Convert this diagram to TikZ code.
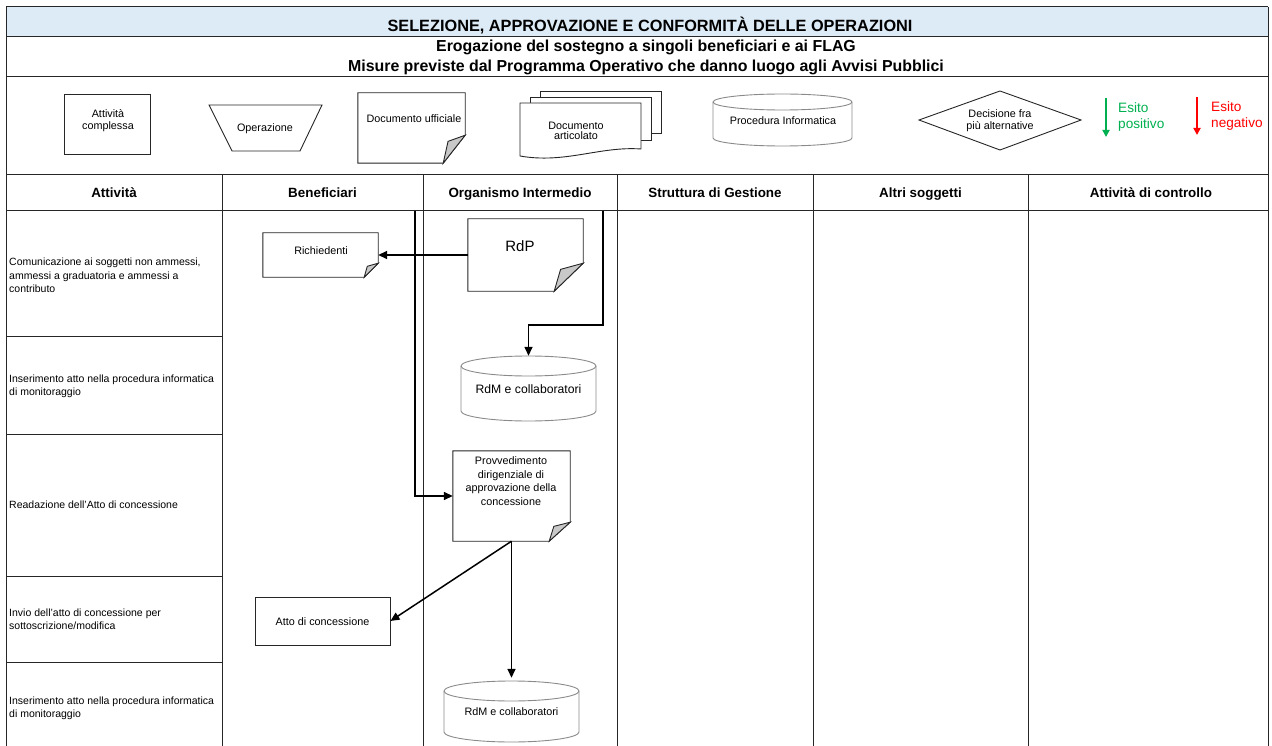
\documentclass[tikz,border=0pt]{standalone}
\usepackage{fontspec}
\setmainfont{Liberation Sans}
\usetikzlibrary{arrows.meta,calc}

\definecolor{titlebg}{HTML}{DDEBF7}
\definecolor{flap}{HTML}{C8C8C8}
\definecolor{okgreen}{HTML}{00B050}
\definecolor{kored}{HTML}{FF0000}
\definecolor{cylgray}{HTML}{8A8A8A}

% document sheet with a curled bottom-right corner: node name, fold width, fold height
\newcommand\docoutline[3]{%
  \draw[boxline,fill=white] (#1.south west) -- (#1.north west) -- (#1.north east)
    -- ([yshift=#3pt]#1.south east) -- ([xshift=-#2pt]#1.south east) -- cycle;
  \draw[boxline,fill=flap] ([yshift=#3pt]#1.south east)
    -- ([xshift=-0.78*#2pt,yshift=0.78*#3pt]#1.south east)
    -- ([xshift=-#2pt]#1.south east) -- cycle;}

% database cylinder: left, top, right, bottom, ellipse half-height
\newcommand\cylout[5]{%
  \draw[cylline,fill=white] (#1,#2+#5) -- (#1,#4-#5)
    arc[start angle=180,end angle=360,x radius={(#3-#1)/2*1pt},y radius=#5pt]
    -- (#3,#2+#5)
    arc[start angle=0,end angle=180,x radius={(#3-#1)/2*1pt},y radius=#5pt] -- cycle;
  \draw[cylline] (#1,#2+#5)
    arc[start angle=180,end angle=360,x radius={(#3-#1)/2*1pt},y radius=#5pt];}

\begin{document}
\begin{tikzpicture}[x=1pt,y=-1pt,
  frame/.style={draw=black!85,line width=1pt},
  boxline/.style={draw=black!85,line width=0.9pt},
  cylline/.style={draw=cylgray,line width=0.9pt},
  shapebox/.style={draw=none,rectangle,inner sep=0pt},
  txt/.style={font=\fontsize{10.8}{12.2}\selectfont,align=center,inner sep=0pt},
  coltxt/.style={font=\fontsize{10.5}{13.5}\selectfont,align=left,anchor=west,inner sep=0pt},
  head/.style={font=\bfseries\fontsize{13.4}{15}\selectfont,inner sep=0pt,anchor=base},
  titletxt/.style={font=\bfseries\fontsize{16.3}{18}\selectfont,inner sep=0pt,anchor=base},
  subtxt/.style={font=\bfseries\fontsize{15.9}{18}\selectfont,inner sep=0pt,anchor=base},
  conn/.style={draw=black,line width=1.5pt,-{Triangle[length=9pt,width=8pt]}},
  esito/.style={line width=2pt,-{Triangle[length=7pt,width=7pt]}},
  esitotxt/.style={font=\fontsize{13.6}{15.5}\selectfont,align=left,anchor=west,inner sep=0pt},
]
\useasboundingbox (0,0) rectangle (1272,746);

% ---- title band and frame
\fill[titlebg] (6,7) rectangle (1268,37);
\foreach \yy in {7,37,77,175,211} \draw[frame] (6,\yy) -- (1268,\yy);
\draw[frame] (6,7) -- (6,746);
\draw[frame] (1268,7) -- (1268,746);
\foreach \xx in {222,423,617,813,1028} \draw[frame] (\xx,175) -- (\xx,746);
\foreach \yy in {336,434,576,662} \draw[frame] (6,\yy) -- (222,\yy);

\node[titletxt] (title) at (650,32) {SELEZIONE, APPROVAZIONE E CONFORMITÀ DELLE OPERAZIONI};
\node[subtxt] (sub1) at (646,51.5) {Erogazione del sostegno a singoli beneficiari e ai FLAG};
\node[subtxt] (sub2) at (646,71.5) {Misure previste dal Programma Operativo che danno luogo agli Avvisi Pubblici};

% ---- legend
\node[shapebox,draw=black!85,line width=0.9pt,minimum width=86pt,minimum height=60pt] (lgatt) at (107,124) {};
\node[txt] (lgatt-t) at (108,121) {Attività\\complessa};

\draw[boxline] (209,105) -- (322,105) -- (300,151) -- (232,151) -- cycle;
\node[txt] (lgop) at (265,129) {Operazione};

\node[shapebox,minimum width=107pt,minimum height=70pt] (lgdoc) at (411.5,128) {};
\docoutline{lgdoc}{22}{28}
\node[txt] (lgdoc-t) at (414,119) {Documento ufficiale};

\draw[boxline,fill=white] (540,91) rectangle (661,133);
\draw[boxline,fill=white] (530,97) rectangle (651,140);
\draw[boxline,fill=white] (520,156) -- (520,103) -- (641,103) -- (641,149)
  .. controls (600,146) and (565,164) .. cycle;
\node[txt,font=\fontsize{10.8}{10.5}\selectfont] (lgart) at (576,131) {Documento\\articolato};

\node[shapebox,minimum width=139pt,minimum height=52pt] (lgcyl) at (783,120) {};
\cylout{713}{94}{852}{146}{8}
\node[txt] (lgcyl-t) at (783,121) {Procedura Informatica};

\draw[boxline] (919,120) -- (1000,91) -- (1081,120) -- (1000,150) -- cycle;
\node[txt] (lgdec) at (1000,121) {Decisione fra\\più alternative};

\coordinate (gA) at (1106,98);
\coordinate (gB) at (1106,137);
\draw[esito,okgreen] (gA) -- (gB);
\node[esitotxt,text=okgreen] (lgpos) at (1118,117) {Esito\\positivo};
\coordinate (rA) at (1197,97);
\coordinate (rB) at (1197,135);
\draw[esito,kored] (rA) -- (rB);
\node[esitotxt,text=kored] (lgneg) at (1211,116) {Esito\\negativo};

% ---- column headings
\node[head] (h1) at (114,198) {Attività};
\node[head] (h2) at (322.5,198) {Beneficiari};
\node[head] (h3) at (520,198) {Organismo Intermedio};
\node[head] (h4) at (715,198) {Struttura di Gestione};
\node[head] (h5) at (920.5,198) {Altri soggetti};
\node[head] (h6) at (1151,198) {Attività di controllo};

% ---- activity descriptions
\node[coltxt] (a1) at (9,275.5) {Comunicazione ai soggetti non ammessi,\\ammessi a graduatoria e ammessi a\\contributo};
\node[coltxt] (a2) at (9,386.5) {Inserimento atto nella procedura informatica\\di monitoraggio};
\node[coltxt] (a3) at (9,505) {Readazione dell'Atto di concessione};
\node[coltxt] (a4) at (9,619) {Invio dell'atto di concessione per\\sottoscrizione/modifica};
\node[coltxt] (a5) at (9,708.5) {Inserimento atto nella procedura informatica\\di monitoraggio};

% ---- flow elements
\node[shapebox,minimum width=115pt,minimum height=44pt] (rich) at (320.5,255) {};
\docoutline{rich}{14}{14}
\node[txt] (rich-t) at (321,251) {Richiedenti};

\node[shapebox,minimum width=115pt,minimum height=72pt] (rdp) at (525.5,255) {};
\docoutline{rdp}{29}{28}
\node[txt,font=\fontsize{15}{17}\selectfont] (rdp-t) at (520,246) {RdP};

\node[shapebox,minimum width=135pt,minimum height=65pt] (cyl1) at (528.5,388.5) {};
\cylout{461}{356}{596}{421}{10}
\node[txt,font=\fontsize{12.2}{14}\selectfont] (cyl1-t) at (528.5,389) {RdM e collaboratori};

\node[shapebox,minimum width=117pt,minimum height=90pt] (prov) at (511.5,496) {};
\docoutline{prov}{21}{19}
\node[txt,font=\fontsize{10.8}{13.6}\selectfont] (prov-t) at (511,481) {Provvedimento\\dirigenziale di\\approvazione della\\concessione};

\node[shapebox,draw=black!85,line width=0.9pt,fill=white,minimum width=135pt,minimum height=48pt] (atto) at (322.5,621) {};
\node[txt] (atto-t) at (322.5,622) {Atto di concessione};

\node[shapebox,minimum width=135pt,minimum height=61pt] (cyl2) at (511.5,711.5) {};
\cylout{444}{681}{579}{742}{10}
\node[txt] (cyl2-t) at (511.5,712) {RdM e collaboratori};

% ---- connectors
\coordinate (in1) at (603,211);
\coordinate (j1) at (603,325);
\coordinate (in2) at (415,211);
\draw[conn] (rdp.west) -- (rich.east);
\draw[conn] (in1) -- (j1) -| (cyl1.north);
\draw[conn] (in2) |- (prov.west);
\draw[conn] (prov.south) -- (atto.east);
\draw[conn] (prov.south) -- ([yshift=3pt]cyl2.north);
\end{tikzpicture}
\end{document}
